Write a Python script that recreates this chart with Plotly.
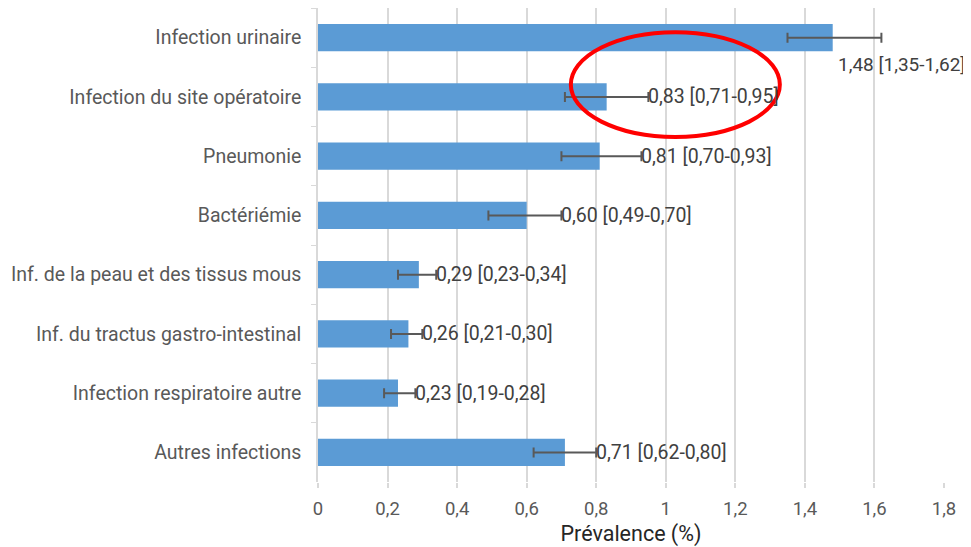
import plotly.graph_objects as go

categories = ["Infection urinaire", "Infection du site opératoire", "Pneumonie", "Bactériémie",
              "Inf. de la peau et des tissus mous", "Inf. du tractus gastro-intestinal",
              "Infection respiratoire autre", "Autres infections"]
prev = [1.48, 0.83, 0.81, 0.60, 0.29, 0.26, 0.23, 0.71]
ci_low = [1.35, 0.71, 0.70, 0.49, 0.23, 0.21, 0.19, 0.62]
ci_high = [1.62, 0.95, 0.93, 0.70, 0.34, 0.30, 0.28, 0.80]
xticks = [0, 0.2, 0.4, 0.6, 0.8, 1, 1.2, 1.4, 1.6, 1.8]
xticktext = ["0", "0,2", "0,4", "0,6", "0,8", "1", "1,2", "1,4", "1,6", "1,8"]

def fr(v):
    return f"{v:.2f}".replace(".", ",")

FONT = "Roboto"
fig = go.Figure()
fig.add_trace(go.Bar(
    y=categories, x=prev, orientation="h", width=0.46,
    marker=dict(color="#5B9BD5", line=dict(width=0)),
    error_x=dict(type="data", symmetric=False,
                 array=[h - p for h, p in zip(ci_high, prev)],
                 arrayminus=[p - l for p, l in zip(prev, ci_low)],
                 color="#595959", thickness=2, width=5),
    hoverinfo="skip",
))

for i, (c, p, l, h) in enumerate(zip(categories, prev, ci_low, ci_high)):
    label = f"{fr(p)} [{fr(l)}-{fr(h)}]"
    if i == 0:
        fig.add_annotation(x=p, y=c, text=label, showarrow=False, xanchor="left",
                           yanchor="middle", xshift=3, yshift=-27,
                           font=dict(family=FONT, size=19, color="#404040"))
    else:
        fig.add_annotation(x=h, y=c, text=label, showarrow=False, xanchor="left",
                           yanchor="middle", xshift=-2,
                           font=dict(family=FONT, size=19.5, color="#404040"))

fig.add_shape(type="circle", xref="x", yref="paper",
              x0=0.727, x1=1.328, y0=0.728, y1=0.949,
              line=dict(color="#FF0000", width=4))

fig.update_layout(
    width=963, height=539,
    margin=dict(l=310, r=27, t=0, b=65),
    paper_bgcolor="white", plot_bgcolor="white",
    showlegend=False,
    font=dict(family=FONT, color="#595959"),
    xaxis=dict(range=[0, 1.8], tickvals=xticks, ticktext=xticktext, automargin=False,
               showgrid=True, gridcolor="#D9D9D9", gridwidth=1.5,
               zeroline=False, showline=False,
               ticks="outside", ticklen=5, tickcolor="#D9D9D9", tickwidth=1.5,
               ticklabelstandoff=5,
               tickfont=dict(size=18.5, color="#595959"),
               title=dict(text="Prévalence (%)", font=dict(size=21.5, color="#262626"), standoff=6)),
    yaxis=dict(categoryorder="array", categoryarray=categories,
               range=[len(categories) - 0.5, -0.5], autorange=False,
               automargin=False,
               showline=True, linecolor="#D9D9D9", linewidth=1.5,
               ticks="outside", tickson="boundaries", ticklen=5, tickcolor="#D9D9D9",
               ticklabelstandoff=11,
               showgrid=False, tickfont=dict(size=19.5, color="#595959")),
)

fig.write_html("out.html")
